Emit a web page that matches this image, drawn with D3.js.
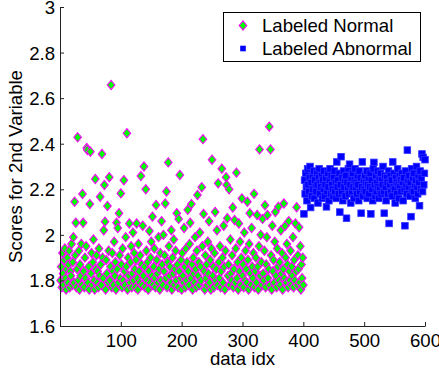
<!DOCTYPE html>
<html>
<head>
<meta charset="utf-8">
<script src="https://cdn.jsdelivr.net/npm/d3@7"></script>
<style>
  html, body { margin: 0; padding: 0; background: #fff; }
  svg { display: block; font-family: "Liberation Sans", Arial, Helvetica, sans-serif; }
</style>
</head>
<body>
<svg id="chart" width="439" height="369"></svg>
<script>
// ---- data ----
const normalScores = [
  1.80,1.86,1.77,1.92,1.83,1.78,1.89,1.94,1.81,1.76,1.85,1.90,1.79,1.87,1.93,1.77,1.84,1.82,1.96,1.78,
  1.88,1.99,1.79,2.145,1.91,2.053,1.77,1.85,2.428,1.80,1.93,1.76,1.87,1.82,1.96,1.78,2.179,2.053,1.84,1.77,
  1.90,1.81,1.95,2.381,2.372,1.79,1.86,1.76,2.135,2.365,1.83,1.92,1.78,1.88,1.98,1.80,1.76,2.245,1.85,1.91,
  1.79,1.84,1.77,1.94,1.82,2.167,1.87,1.78,2.355,1.90,1.81,2.02,2.219,2.058,1.76,1.89,1.83,2.127,1.79,1.93,
  2.253,1.80,1.86,2.658,1.77,1.92,1.84,1.78,1.97,1.82,1.88,1.76,2.053,1.85,2.03,1.79,2.095,1.91,1.81,2.182,
  1.87,1.77,1.94,1.80,2.24,1.84,1.78,1.99,1.86,2.446,1.76,1.90,1.82,2.05,1.79,1.88,1.95,1.77,1.83,2.01,
  1.80,1.92,1.85,1.77,1.89,2.05,1.81,1.76,1.96,1.84,1.79,1.91,2.258,1.87,1.78,2.04,1.82,2.30,1.86,1.77,
  2.20,1.93,1.80,1.88,1.76,1.84,2.017,1.79,1.90,1.97,1.82,2.08,1.78,1.86,1.94,1.81,1.77,2.131,1.89,1.83,
  1.79,1.99,1.85,1.76,1.92,1.80,2.06,1.87,1.78,2.00,1.84,1.91,2.138,1.81,2.19,1.77,1.88,2.318,1.95,1.82,
  1.86,1.79,2.02,1.76,1.90,1.83,1.98,1.78,1.85,1.93,1.80,2.095,1.87,1.77,2.07,1.84,2.263,1.81,1.89,1.76,
  1.92,1.82,1.79,2.03,1.86,1.77,1.94,1.80,1.88,2.11,1.84,1.78,1.96,2.053,1.81,2.135,1.87,1.76,1.90,1.83,
  1.79,1.99,1.85,1.77,1.93,2.175,1.82,1.88,1.78,2.01,1.86,1.80,2.209,1.95,2.42,2.092,1.84,1.76,1.91,1.81,
  1.87,1.78,1.97,1.83,2.06,1.79,1.89,1.76,1.94,2.33,1.82,1.86,1.77,1.92,2.10,1.80,1.85,2.02,1.78,2.226,
  1.88,1.81,1.95,1.77,1.84,2.29,1.90,1.79,2.04,1.86,1.76,1.93,2.253,2.219,2.073,1.82,1.87,2.20,1.78,1.98,
  1.83,1.80,1.91,2.12,1.77,1.85,2.065,1.79,1.94,2.273,1.81,1.88,1.76,2.05,1.84,1.97,1.78,1.90,2.16,1.82,
  1.87,1.77,2.01,1.80,1.93,1.85,1.79,2.145,1.89,1.76,1.96,2.095,1.83,1.78,2.03,1.86,1.81,1.92,2.18,1.77,
  1.84,1.90,1.79,2.087,1.86,1.76,1.95,2.375,1.82,2.00,1.88,1.78,2.07,1.83,1.80,1.93,2.13,1.77,1.87,1.99,
  2.087,1.81,1.85,2.475,1.78,2.375,1.91,1.76,2.04,1.84,1.89,1.79,1.97,2.10,1.82,1.77,1.94,1.86,2.123,1.80,
  1.88,1.78,2.02,1.83,1.92,1.76,1.85,2.138,1.81,2.039,1.90,1.79,1.96,1.87,1.77,2.06,1.84,1.80,1.93,1.78,
  1.86,1.82,1.99,1.77,1.89,1.80,2.05,1.84,2.121,1.78,1.91,1.85,2.033,1.79,1.95,1.76,1.87,1.81,1.90,1.78
];
const abnormalScores = [
  2.092,2.24,2.18,2.27,2.21,2.15,2.29,2.22,2.19,2.25,2.30,2.12,2.23,2.17,2.26,2.20,2.28,2.16,2.24,2.21,
  2.19,2.27,2.22,2.14,2.25,2.29,2.18,2.23,2.21,2.26,2.16,2.24,2.20,2.28,2.17,2.22,2.25,2.123,2.19,2.27,
  2.21,2.15,2.24,2.29,2.18,2.26,2.22,2.20,2.17,2.25,2.28,2.19,2.23,2.16,2.32,2.21,2.24,2.18,2.27,2.10,
  2.22,2.343,2.19,2.25,2.15,2.28,2.21,2.24,2.17,2.26,2.073,2.23,2.20,2.29,2.18,2.31,2.22,2.14,2.25,2.19,
  2.27,2.21,2.16,2.24,2.29,2.20,2.23,2.18,2.26,2.22,2.15,2.28,2.19,2.25,2.095,2.21,2.32,2.17,2.24,2.20,
  2.26,2.19,2.23,2.28,2.16,2.22,2.25,2.18,2.21,2.27,2.092,2.24,2.20,2.15,2.29,2.318,2.22,2.17,2.26,2.19,
  2.23,2.28,2.21,2.16,2.25,2.20,2.27,2.18,2.24,2.22,2.30,2.19,2.095,2.26,2.21,2.15,2.25,2.23,2.18,2.28,
  2.05,2.22,2.26,2.19,2.24,2.17,2.32,2.21,2.27,2.20,2.14,2.25,2.23,2.18,2.29,2.22,2.16,2.26,2.21,2.24,
  2.19,2.27,2.23,2.15,2.25,2.20,2.04,2.28,2.22,2.18,2.372,2.24,2.21,2.26,2.17,2.23,2.08,2.29,2.20,2.25,
  2.19,2.27,2.22,2.16,2.24,2.30,2.21,2.18,2.26,2.23,2.128,2.28,2.20,2.25,2.355,2.19,2.34,2.22,2.27,2.33
];
const normalStartIdx = 1;
const abnormalStartIdx = 401;
const xTicks = [100, 200, 300, 400, 500, 600];
const yTicks = [1.6, 1.8, 2, 2.2, 2.4, 2.6, 2.8, 3];
const seriesNames = ["Labeled Normal", "Labeled Abnormal"];
const xLabel = "data idx";
const yLabel = "Scores for 2nd Variable";

// ---- layout ----
const svg = d3.select("#chart");
const L = 60, R = 425, T = 7, B = 326;
const FS = 18.6;
const x = d3.scaleLinear().domain([0, 600]).range([L, R]);
const y = d3.scaleLinear().domain([1.6, 3]).range([B, T]);

const normalPts = normalScores.map((v, i) => ({ idx: normalStartIdx + i, v }));
const abnormalPts = abnormalScores.map((v, i) => ({ idx: abnormalStartIdx + i, v }));

const diamond = "M0,-4.6L3.8,0L0,4.6L-3.8,0Z";

// points
svg.append("g").selectAll("path").data(normalPts).join("path")
  .attr("d", diamond)
  .attr("transform", d => `translate(${x(d.idx)},${y(d.v)})`)
  .attr("fill", "#00ff00").attr("stroke", "#ff00ff").attr("stroke-width", 1.1);

const sq = 6.6;
svg.append("g").selectAll("rect").data(abnormalPts).join("rect")
  .attr("x", d => x(d.idx) - sq / 2).attr("y", d => y(d.v) - sq / 2)
  .attr("width", sq).attr("height", sq)
  .attr("fill", "#0000ff").attr("stroke", "#3333ff").attr("stroke-width", 0.8);

// axes
const xAxis = d3.axisBottom(x).tickValues(xTicks).tickSizeInner(-4).tickSizeOuter(0).tickPadding(8).tickFormat(d3.format("d"));
const yAxis = d3.axisLeft(y).tickValues(yTicks).tickSizeInner(-4).tickSizeOuter(0).tickPadding(8).tickFormat(d => String(d));

const gx = svg.append("g").attr("transform", `translate(0,${B})`).call(xAxis);
const gy = svg.append("g").attr("transform", `translate(${L},0)`).call(yAxis);
[gx, gy].forEach(g => {
  g.select(".domain").attr("stroke", "#222").attr("stroke-width", 1);
  g.selectAll(".tick line").attr("stroke", "#222");
  g.selectAll("text").attr("font-size", FS).attr("fill", "#000")
    .attr("font-family", "'Liberation Sans', Arial, sans-serif");
});
gx.selectAll(".tick text").attr("dy", null).attr("y", 21);
gy.selectAll(".tick text").attr("x", -5).attr("dy", "0.35em");

// axis labels
svg.append("text").attr("x", (L + R) / 2).attr("y", 365)
  .attr("text-anchor", "middle").attr("font-size", FS).text(xLabel);
svg.append("text").attr("transform", `translate(22,${(T + B) / 2}) rotate(-90)`)
  .attr("text-anchor", "middle").attr("font-size", FS).text(yLabel);

// legend
const lg = svg.append("g");
lg.append("rect").attr("x", 223.5).attr("y", 12.5).attr("width", 197).attr("height", 49)
  .attr("fill", "#fff").attr("stroke", "#000").attr("stroke-width", 1);
lg.append("path").attr("d", diamond).attr("transform", "translate(243,25.5)")
  .attr("fill", "#00ff00").attr("stroke", "#ff00ff").attr("stroke-width", 1.1);
lg.append("rect").attr("x", 243 - 2.8).attr("y", 48.5 - 2.8).attr("width", 5.6).attr("height", 5.6)
  .attr("fill", "#0000ff");
lg.append("text").attr("x", 262).attr("y", 32).attr("font-size", FS).text(seriesNames[0]);
lg.append("text").attr("x", 262).attr("y", 55).attr("font-size", FS).text(seriesNames[1]);
</script>
</body>
</html>
